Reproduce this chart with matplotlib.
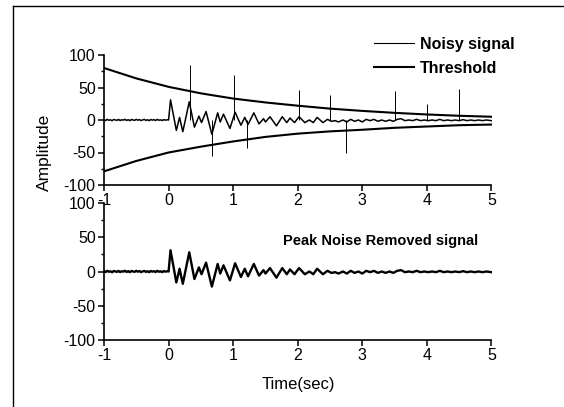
import numpy as np
import matplotlib
matplotlib.use("Agg")
import matplotlib.pyplot as plt
from matplotlib.lines import Line2D

plt.rcParams["font.family"] = ["Liberation Sans", "DejaVu Sans"]
plt.rcParams["axes.unicode_minus"] = False

# ---- data -------------------------------------------------------------
# pre-trigger baseline (t = -1 .. 0, step 0.025 s)
baseline_t = [-1.0 + 0.025 * i for i in range(40)]
baseline_v = [0.6, -0.8, 1.0, -0.4, 0.3, -1.1, 0.7, 0.2, -0.6, 0.9,
              -0.9, 0.4, -0.2, 1.1, -0.7, 0.5, -1.0, 0.8, 0.0, -0.5,
              1.0, -0.3, 0.6, -0.9, 0.2, 0.9, -0.6, 0.4, -1.0, 0.7,
              -0.2, 0.5, -0.8, 1.0, -0.4, 0.3, -0.9, 0.6, -0.3, 0.4]

# response after the trigger (turning points)
resp_t = [0.00, 0.03, 0.12, 0.17, 0.22, 0.32, 0.40, 0.47, 0.51, 0.58,
          0.67, 0.76, 0.80, 0.85, 0.95, 1.03, 1.12, 1.18, 1.23, 1.32,
          1.40, 1.47, 1.50, 1.57, 1.67, 1.76, 1.83, 1.88, 1.95, 2.02,
          2.11, 2.18, 2.24, 2.30, 2.39, 2.46, 2.52, 2.58, 2.63, 2.70,
          2.76, 2.82, 2.88, 2.94, 3.00, 3.06, 3.12, 3.18, 3.24, 3.30,
          3.36, 3.42, 3.48, 3.54, 3.60, 3.66, 3.72, 3.78, 3.84, 3.90,
          3.96, 4.02, 4.08, 4.14, 4.20, 4.26, 4.32, 4.38, 4.44, 4.50,
          4.56, 4.62, 4.68, 4.74, 4.80, 4.86, 4.92, 5.00]
resp_v = [0, 31, -16, 4, -18, 28, -11, 6, -4, 13,
          -22, 11, -3, 9, -13, 12, -8, 4, -7, 11,
          -6, 2, -3, 5, -9, 5, -4, 3, -4, 5,
          -4, 0, -4, 4, -4, 1, -2, -1, -3, 0,
          -3, 1, -2, 0, -3, 1, -1, 1, -2, 0,
          -2, 0, -2, 1, 2, -1, 0, -1, 1, -1,
          0, -1, 0, -1, 1, -1, 0, -1, 0, -1,
          0.5, -1, 0, -1, 0, -1, 0, -1]

# impulsive noise peaks
spike_t = [0.33, 0.67, 1.02, 1.22, 2.02, 2.50, 2.75, 3.50, 4.00, 4.50]
spike_v = [84, -56, 69, -43, 46, 38, -50, 44, 24, 48]

# time-varying threshold
thr_t = [-1.0, -0.5, 0.0, 0.5, 1.0, 1.5, 2.0, 2.5, 3.0, 3.5, 4.0, 4.5, 5.0]
thr_upper = [80, 64, 51, 41, 33, 27, 22, 17.5, 14, 11, 8.5, 6.5, 5]
thr_lower = [-79, -63, -50, -41, -33, -26, -21, -17.5, -15, -12, -10, -8, -7]

x_ticks = [-1, 0, 1, 2, 3, 4, 5]
y_ticks = [-100, -50, 0, 50, 100]

# ---- figure -----------------------------------------------------------
W, H = 564, 407
fig = plt.figure(figsize=(W / 100, H / 100), dpi=100)

sig_t = np.array(baseline_t + resp_t)
sig_v = np.array(baseline_v + resp_v)


def style_axes(ax):
    ax.set_xlim(-1, 5)
    ax.set_ylim(-100, 100)
    ax.spines["top"].set_visible(False)
    ax.spines["right"].set_visible(False)
    for s in ("left", "bottom"):
        ax.spines[s].set_linewidth(1.2)
    ax.set_xticks(x_ticks)
    ax.set_yticks(y_ticks)
    ax.set_yticks([-75, -25, 25, 75], minor=True)
    ax.tick_params(which="major", direction="out", length=4, width=1.1,
                   labelsize=11.5, pad=2)
    ax.tick_params(which="minor", direction="out", length=2.5, width=1.0)
    ax.patch.set_alpha(0)


def box(px_left, px_top, px_right, px_bottom):
    return [px_left / W, 1 - px_bottom / H,
            (px_right - px_left) / W, (px_bottom - px_top) / H]


ax1 = fig.add_axes(box(104, 55, 491.5, 185))
ax2 = fig.add_axes(box(104, 203, 491.5, 340))

# top: noisy signal with threshold
ax1.plot(sig_t, sig_v, color="black", lw=1.1, zorder=3)
ax1.vlines(spike_t, 0, spike_v, color="black", lw=0.7, zorder=3)
ax1.plot(thr_t, thr_upper, color="black", lw=1.5, zorder=2)
ax1.plot(thr_t, thr_lower, color="black", lw=1.5, zorder=2)
style_axes(ax1)

# bottom: signal after peak-noise removal
ax2.plot(sig_t, sig_v, color="black", lw=1.7)
style_axes(ax2)

handles = [Line2D([], [], color="black", lw=0.8),
           Line2D([], [], color="black", lw=1.5)]
fig.legend(handles, ["Noisy signal", "Threshold"],
           loc="upper left", bbox_to_anchor=(374 / W, 1 - 37 / H),
           bbox_transform=fig.transFigure, frameon=False,
           prop={"weight": "bold", "size": 11.5},
           handlelength=2.5, handletextpad=0.4, labelspacing=0.55,
           borderpad=0, borderaxespad=0)

fig.text(283 / W, 1 - 241 / H, "Peak Noise Removed signal",
         fontsize=10.5, fontweight="bold", ha="left", va="center")
fig.text(44 / W, 1 - 152 / H, "Amplitude", rotation=90,
         fontsize=12.5, ha="center", va="center")
fig.text(298 / W, 1 - 385 / H, "Time(sec)", fontsize=12,
         ha="center", va="center")

# outer frame (left and top edges)
fig.add_artist(Line2D([12.5 / W, 12.5 / W], [0, 1 - 6 / H],
                      transform=fig.transFigure, color="black", lw=1.0))
fig.add_artist(Line2D([12.5 / W, 1], [1 - 6 / H, 1 - 6 / H],
                      transform=fig.transFigure, color="black", lw=1.0))

fig.savefig("out.png", dpi=100)
